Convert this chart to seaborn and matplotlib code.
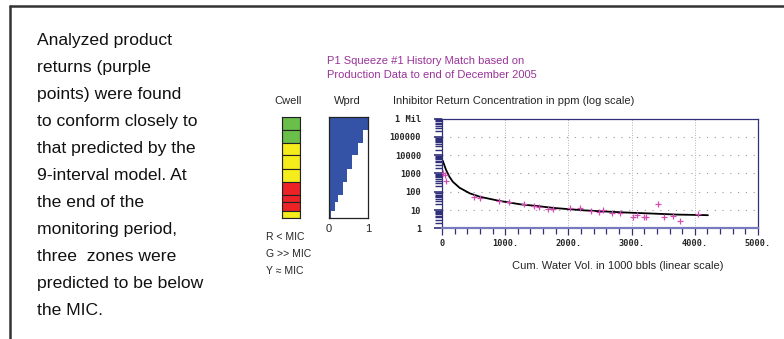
import numpy as np
import pandas as pd
import seaborn as sns
import matplotlib.pyplot as plt
from matplotlib.lines import Line2D
from matplotlib.ticker import MultipleLocator, LogLocator, NullFormatter

# zones from top to bottom (Cwell column and Wprd staircase)
zone_thick = [40, 38, 37, 41, 40, 37, 23, 27, 20]
zone_state = ["G", "G", "Y", "Y", "Y", "R", "R", "R", "Y"]
wprd_frac = [1.0, 0.87, 0.75, 0.60, 0.47, 0.35, 0.24, 0.15, 0.05]

# model curve (cum. water vol, ppm)
model_x = [0, 0, 12, 64, 117, 171, 277, 437, 597, 917, 1237, 1504, 1771, 1984,
           2261, 2581, 2901, 3275, 3728, 4128, 4208]
model_y = [1, 4200, 4900, 1550, 660, 350, 165, 82, 53, 31, 20.5, 16.5, 12.9, 11.3,
           9.5, 8.3, 7.3, 6.5, 5.6, 5.3, 5.2]

# analysed returns (purple points)
obs_x = [11, 48, 59, 501, 608, 901, 1061, 1301, 1461, 1541, 1675, 1755, 2030, 2181,
         2357, 2485, 2555, 2688, 2821, 3024, 3088, 3195, 3221, 3424, 3515, 3659, 3765, 4048]
obs_y = [1000, 820, 385, 49, 44, 31, 28, 21, 16.5, 14, 11.8, 11.3, 12.4, 12.2,
         9.0, 8.0, 10.5, 6.8, 6.8, 3.9, 5.2, 3.9, 3.9, 21, 3.9, 4.5, 2.6, 6.0]

ytick_vals = [1, 10, 100, 1000, 10000, 100000, 1000000]
ytick_labels = ["1", "10", "100", "1000", "10000", "100000", "1 Mil"]
xtick_vals = [0, 1000, 2000, 3000, 4000, 5000]
xtick_labels = ["0", "1000.", "2000.", "3000.", "4000.", "5000."]

paragraph = ["Analyzed product", "returns (purple", "points) were found",
             "to conform closely to", "that predicted by the", "9-interval model. At",
             "the end of the", "monitoring period,", "three  zones were",
             "predicted to be below", "the MIC."]

sns.set_style("white")
plt.rcParams["font.family"] = ["Liberation Sans", "DejaVu Sans"]

W, H = 784, 339
fig = plt.figure(figsize=(W / 100, H / 100), dpi=100)

def box(x0, y0, x1, y1):
    return [x0 / W, 1 - y1 / H, (x1 - x0) / W, (y1 - y0) / H]

navy = "#30307a"
purple = "#993399"
pink = "#d04fb0"

# frame lines
fig.add_artist(Line2D([10 / W, 1], [1 - 6 / H, 1 - 6 / H], color="#333333", lw=1.8))
fig.add_artist(Line2D([10 / W, 10 / W], [0, 1 - 6 / H], color="#333333", lw=1.8))

# paragraph
for i, line in enumerate(paragraph):
    fig.text(37 / W, 1 - (45 + 27 * i) / H, line, fontsize=12.6, color="#111111",
             va="baseline", ha="left")

# titles
fig.text(327 / W, 1 - 64 / H, "P1 Squeeze #1 History Match based on", color=purple,
         fontsize=8, va="baseline")
fig.text(327 / W, 1 - 78 / H, "Production Data to end of December 2005", color=purple,
         fontsize=8, va="baseline")
fig.text(288 / W, 1 - 104 / H, "Cwell", fontsize=8, ha="center", va="baseline")
fig.text(347 / W, 1 - 104 / H, "Wprd", fontsize=8, ha="center", va="baseline")
fig.text(393 / W, 1 - 104 / H, "Inhibitor Return Concentration in ppm (log scale)",
         fontsize=8, va="baseline")

# legend
for i, t in enumerate(["R < MIC", "G >> MIC", "Y \u2248 MIC"]):
    fig.text(266 / W, 1 - (240 + 17 * i) / H, t, fontsize=7.5, va="baseline")

zones = pd.DataFrame({"thick": zone_thick, "state": zone_state, "frac": wprd_frac})
zones["top"] = zones["thick"].cumsum() - zones["thick"]
zones["mid"] = zones["top"] + zones["thick"] / 2
state_col = {"G": "#6abf4b", "Y": "#f5ec1c", "R": "#ec2227"}
total = zones["thick"].sum()

# Cwell column
axc = fig.add_axes(box(282, 117, 300, 218))
axc.bar(np.zeros(len(zones)), zones["thick"], bottom=zones["top"], width=1,
        color=zones["state"].map(state_col), edgecolor="#222222", linewidth=0.8)
axc.set_xlim(-0.5, 0.5)
axc.set_ylim(total, 0)
axc.set_xticks([])
axc.set_yticks([])
for s in axc.spines.values():
    s.set_color("#222222")
    s.set_linewidth(0.8)

# Wprd column
axw = fig.add_axes(box(329, 117, 368, 218))
axw.barh(zones["mid"], zones["frac"], height=zones["thick"], left=0,
         color="#3553a6", linewidth=0)
axw.set_xlim(0, 1)
axw.set_ylim(total, 0)
axw.set_yticks([])
axw.set_xticks([0, 1])
axw.set_xticklabels(["0", "1"], fontsize=8)
axw.tick_params(axis="x", length=0, pad=4)
for s in axw.spines.values():
    s.set_color("#222222")
    s.set_linewidth(0.9)

# main history match plot
ax = fig.add_axes(box(442, 118.5, 758, 228.3))
sns.lineplot(x=model_x, y=model_y, sort=False, estimator=None, color="black",
             linewidth=1.3, ax=ax)
sns.scatterplot(x=obs_x, y=obs_y, marker="+", color=pink, s=14, linewidth=0.9, ax=ax,
                zorder=3)
ax.set_yscale("log")
ax.set_xlim(0, 5000)
ax.set_ylim(1, 1e6)
ax.set_yticks(ytick_vals)
ax.set_yticklabels(ytick_labels, family="DejaVu Sans Mono", fontsize=6.2,
                   fontweight="bold")
ax.yaxis.set_minor_locator(LogLocator(base=10, subs=np.arange(2, 10) * 1.0, numticks=20))
ax.yaxis.set_minor_formatter(NullFormatter())
ax.set_xticks(xtick_vals)
ax.set_xticklabels(xtick_labels, family="DejaVu Sans Mono", fontsize=6.2,
                   fontweight="bold")
ax.xaxis.set_minor_locator(MultipleLocator(200))
ax.tick_params(which="both", left=True, bottom=True, top=False, right=False)
ax.tick_params(axis="y", which="major", length=6, width=1.2, color=navy, pad=9,
               direction="out")
ax.tick_params(axis="y", which="minor", length=5, width=1.0, color=navy, direction="out")
ax.tick_params(axis="x", which="major", length=5, width=0.9, color=navy, pad=3,
               direction="out")
ax.tick_params(axis="x", which="minor", length=4, width=0.9, color=navy, direction="out")
ax.grid(False)
for v in xtick_vals[1:-1]:
    ax.axvline(v, color="#9a9a9a", lw=0.6, ls=(0, (1, 2)), zorder=0)
for v in ytick_vals[1:-1]:
    ax.axhline(v, color="#9a9a9a", lw=0.8, ls=(0, (1, 6)), zorder=0)
for side in ["top", "right", "left"]:
    ax.spines[side].set_color(navy)
    ax.spines[side].set_linewidth(0.9)
ax.spines["bottom"].set_color("#7a7abf")
ax.spines["bottom"].set_linewidth(1.6)
ax.set_xlabel("")
ax.set_ylabel("")

fig.text(618 / W, 1 - 269 / H, "Cum. Water Vol. in 1000 bbls (linear scale)",
         fontsize=8, ha="center", va="baseline")

fig.savefig("out.png", dpi=100)
